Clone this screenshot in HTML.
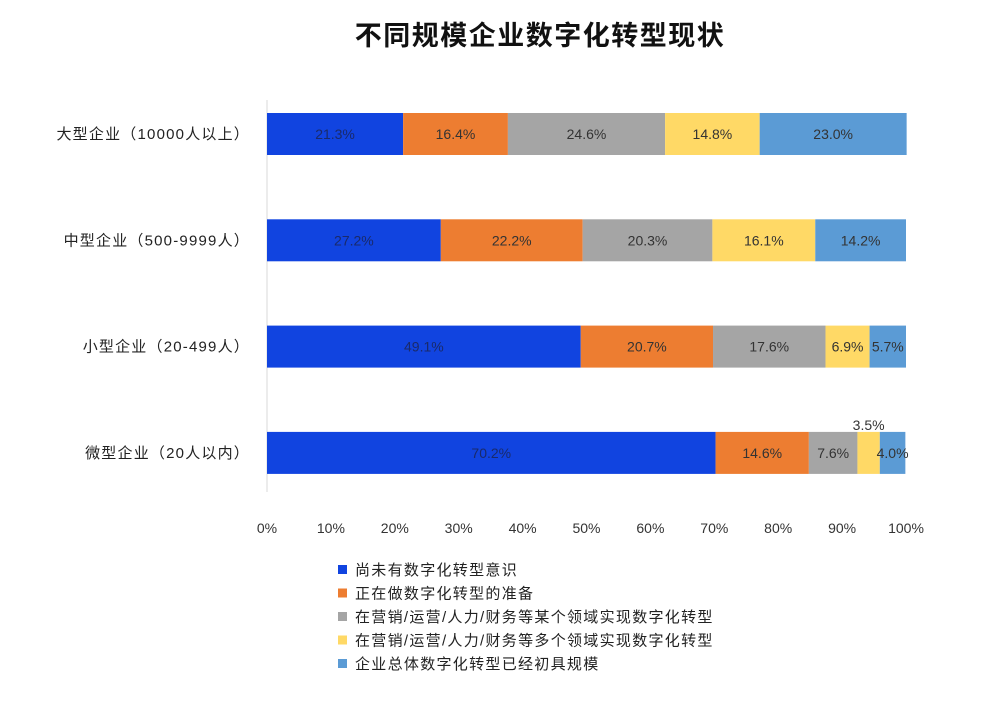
<!DOCTYPE html>
<html><head><meta charset="utf-8"><style>
body{margin:0;background:#fff;}
svg text{font-family:"Liberation Sans","Noto Sans CJK SC",sans-serif;}
</style></head><body>
<svg width="1003" height="706" xmlns="http://www.w3.org/2000/svg">
<text x="540" y="45" text-anchor="middle" font-size="27" font-weight="bold" letter-spacing="1.5" fill="#111">不同规模企业数字化转型现状</text>
<line x1="267" y1="100" x2="267" y2="492" stroke="#d9d9d9" stroke-width="1"/>
<g id="bars"></g><g id="xticks"></g><g id="legend"></g>
</svg>
<script>
const categories=["大型企业（10000人以上）","中型企业（500-9999人）","小型企业（20-499人）","微型企业（20人以内）"];
const seriesNames=["尚未有数字化转型意识","正在做数字化转型的准备","在营销/运营/人力/财务等某个领域实现数字化转型","在营销/运营/人力/财务等多个领域实现数字化转型","企业总体数字化转型已经初具规模"];
const s1=[21.3,27.2,49.1,70.2];
const s2=[16.4,22.2,20.7,14.6];
const s3=[24.6,20.3,17.6,7.6];
const s4=[14.8,16.1,6.9,3.5];
const s5=[23.0,14.2,5.7,4.0];
const tickLabels=["0%","10%","20%","30%","40%","50%","60%","70%","80%","90%","100%"];
const colors=["#1144e0","#ed7d31","#a5a5a5","#ffd966","#5b9bd5"];
const NS="http://www.w3.org/2000/svg";
const x0=267,x1=906;
const xs=v=>x0+(x1-x0)*v/100;
const rowY=i=>113+i*106.3;
const barH=42;
const series=[s1,s2,s3,s4,s5];
const bars=document.getElementById('bars');
categories.forEach((c,i)=>{
  const t=document.createElementNS(NS,'text');
  
  
  t.setAttribute('x',250);t.setAttribute('y',rowY(i)+barH/2+5);
  t.setAttribute('text-anchor','end');t.setAttribute('font-size','15');t.setAttribute('letter-spacing','1.2');t.setAttribute('fill','#222');
  t.textContent=c;bars.appendChild(t);
  let acc=0;
  series.forEach((s,k)=>{
    const v=s[i];
    const r=document.createElementNS(NS,'rect');
    
    
    r.setAttribute('x',xs(acc));r.setAttribute('y',rowY(i));
    r.setAttribute('width',xs(acc+v)-xs(acc));r.setAttribute('height',barH);
    r.setAttribute('fill',colors[k]);bars.appendChild(r);
    const l=document.createElementNS(NS,'text');
    
    
    let cx=(xs(acc)+xs(acc+v))/2, cy=rowY(i)+barH/2+5;
    if(v<5 && k===3){cy=rowY(i)-2;}
    l.setAttribute('x',cx);l.setAttribute('y',cy);
    l.setAttribute('text-anchor','middle');l.setAttribute('font-size','14');
    l.setAttribute('fill',k===0?'#1a2a6a':'#333');
    l.textContent=v.toFixed(1)+'%';bars.appendChild(l);
    acc+=v;
  });
});
const xt=document.getElementById('xticks');
tickLabels.forEach((s,i)=>{
  const t=document.createElementNS(NS,'text');
  
  
  t.setAttribute('x',xs(i*10));t.setAttribute('y',533);
  t.setAttribute('text-anchor','middle');t.setAttribute('font-size','14');t.setAttribute('fill','#333');
  t.textContent=s;xt.appendChild(t);
});
const lg=document.getElementById('legend');
seriesNames.forEach((n,k)=>{
  const y=570+k*23.5;
  const r=document.createElementNS(NS,'rect');
  
  
  r.setAttribute('x',338);r.setAttribute('y',y-5);r.setAttribute('width',9);r.setAttribute('height',9);
  r.setAttribute('fill',colors[k]);lg.appendChild(r);
  const t=document.createElementNS(NS,'text');
  
  
  t.setAttribute('x',355);t.setAttribute('y',y+5);t.setAttribute('font-size','15');t.setAttribute('letter-spacing','1.3');t.setAttribute('fill','#222');
  t.textContent=n;lg.appendChild(t);
});
</script>
</body></html>
